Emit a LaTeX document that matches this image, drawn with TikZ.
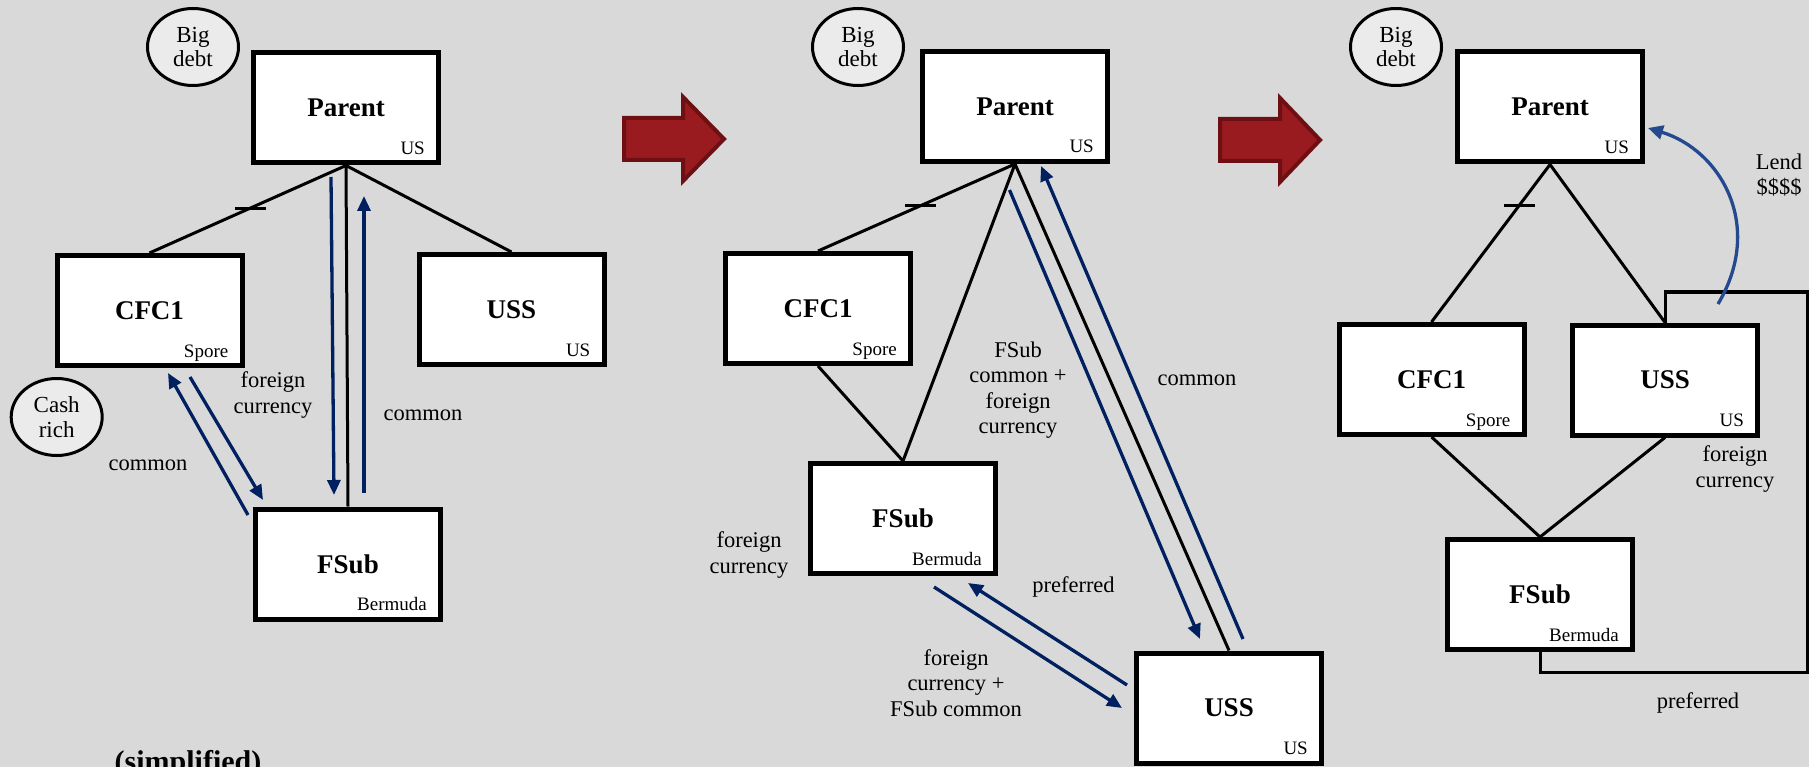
\documentclass[tikz,border=0pt]{standalone}
\usepackage{fontspec}
\setmainfont{Liberation Serif}
\usetikzlibrary{arrows.meta,calc,shapes.geometric}
\definecolor{bg}{HTML}{D9D9D9}
\definecolor{navy}{HTML}{002060}
\definecolor{lendblue}{HTML}{24498F}
\definecolor{bubblefill}{HTML}{EBEBEB}
\definecolor{arrowred}{HTML}{9A1B1F}
\definecolor{arrowdark}{HTML}{6E1013}
\pgfdeclarelayer{back}
\pgfsetlayers{back,main}
\begin{document}
\begin{tikzpicture}[x=1pt,y=-1pt,
  box/.style={draw=black,line width=5pt,fill=white,minimum width=185pt,minimum height=110pt,inner sep=0pt,font=\fontsize{27}{30}\selectfont\bfseries},
  ctry/.style={inner sep=0pt,font=\fontsize{19}{20}\selectfont},
  lbl/.style={inner sep=0pt,align=center,font=\fontsize{22.5}{25.5}\selectfont},
  bubble/.style={ellipse,draw=black,line width=3pt,fill=bubblefill,minimum width=91pt,minimum height=77pt,inner sep=0pt,align=center,font=\fontsize{23}{24.5}\selectfont},
  conn/.style={draw=black,line width=3pt},
  tickmark/.style={draw=black,line width=3pt},
  flow/.style={draw=navy,line width=3.3pt,-{Triangle[length=15pt,width=13pt]}},
  lendflow/.style={draw=lendblue,line width=3.3pt,-{Triangle[length=15pt,width=14pt]}},
  bigarrow/.style={fill=arrowred,draw=arrowdark,line width=4pt,line join=miter}
]
\useasboundingbox (0,0) rectangle (1809,767);
\begin{pgfonlayer}{back}
\fill[bg] (0,0) rectangle (1809,767);
\end{pgfonlayer}
\begin{scope}
\clip (0,0) rectangle (1809,767);

% ---------------- Panel 1 ----------------
\node[box] (P1) at (346,108) {Parent};
\node[box] (C1) at (149.5,310.5) {CFC1};
\node[box] (U1) at (511.5,309.5) {USS};
\node[box] (F1) at (348,564) {FSub};
\begin{pgfonlayer}{back}
\draw[conn] (P1.south) -- (C1.north) coordinate[pos=0.49] (t1);
\draw[conn] (P1.south) -- (U1.north);
\draw[conn] (P1.south) -- (F1.north);
\draw[tickmark] ($(t1)+(-15,0)$) -- ($(t1)+(16,0)$);
\end{pgfonlayer}
\node[ctry,anchor=base east] (P1c) at ($(P1.south east)+(-16,-11)$) {US};
\node[ctry,anchor=base east] (C1c) at ($(C1.south east)+(-16,-11)$) {Spore};
\node[ctry,anchor=base east] (U1c) at ($(U1.south east)+(-16,-11)$) {US};
\node[ctry,anchor=base east] (F1c) at ($(F1.south east)+(-16,-11)$) {Bermuda};
\node[bubble] (B1) at (193,47) {Big\\debt};
\node[bubble] (R1) at (56.7,417) {Cash\\rich};
\coordinate (a1s) at (331,177); \coordinate (a1e) at (334,495);
\coordinate (a2s) at (364,493); \coordinate (a2e) at (364,196);
\coordinate (a3s) at (248,515); \coordinate (a3e) at (168,373);
\coordinate (a4s) at (190,377); \coordinate (a4e) at (263,500);
\draw[flow] (a1s) -- (a1e);
\draw[flow] (a2s) -- (a2e);
\draw[flow] (a3s) -- (a3e);
\draw[flow] (a4s) -- (a4e);
\node[lbl] (L1) at (273,395) {foreign\\currency};
\node[lbl] (L2) at (423,415) {common};
\node[lbl] (L3) at (148,465) {common};
\node[inner sep=0pt,anchor=base,font=\fontsize{30}{32}\selectfont\bfseries] (S1) at (188,771) {(simplified)};

% ---------------- Arrows between panels ----------------
\draw[bigarrow] (624,118) -- (683,118) -- (683,97) -- (724,139) -- (683,181) -- (683,160) -- (624,160) -- cycle;
\draw[bigarrow] (1220,119) -- (1280,119) -- (1280,98) -- (1320,140) -- (1280,182) -- (1280,161) -- (1220,161) -- cycle;

% ---------------- Panel 2 ----------------
\node[box] (P2) at (1015,106.5) {Parent};
\node[box] (C2) at (818,308.5) {CFC1};
\node[box] (F2) at (903,518.5) {FSub};
\node[box] (U2) at (1229,708) {USS};
\begin{pgfonlayer}{back}
\draw[conn] (P2.south) -- (C2.north) coordinate[pos=0.48] (t2);
\draw[conn] (P2.south) -- (F2.north);
\draw[conn] (C2.south) -- (F2.north);
\draw[conn] (P2.south) -- (U2.north);
\draw[tickmark] ($(t2)+(-15,0)$) -- ($(t2)+(16,0)$);
\end{pgfonlayer}
\node[ctry,anchor=base east] (P2c) at ($(P2.south east)+(-16,-11)$) {US};
\node[ctry,anchor=base east] (C2c) at ($(C2.south east)+(-16,-11)$) {Spore};
\node[ctry,anchor=base east] (F2c) at ($(F2.south east)+(-16,-11)$) {Bermuda};
\node[ctry,anchor=base east] (U2c) at ($(U2.south east)+(-16,-11)$) {US};
\node[bubble] (B2) at (858,47) {Big\\debt};
\coordinate (b1s) at (1009.5,190); \coordinate (b1e) at (1200,639);
\coordinate (b2s) at (1243,639); \coordinate (b2e) at (1041,166);
\coordinate (b3s) at (934,587); \coordinate (b3e) at (1122,708);
\coordinate (b4s) at (1127,685); \coordinate (b4e) at (968,583);
\draw[flow] (b1s) -- (b1e);
\draw[flow] (b2s) -- (b2e);
\draw[flow] (b3s) -- (b3e);
\draw[flow] (b4s) -- (b4e);
\node[lbl] (M1) at (1018,390) {FSub\\common +\\foreign\\currency};
\node[lbl] (M2) at (1197,380) {common};
\node[lbl] (M3) at (1073.5,587) {preferred};
\node[lbl] (M4) at (956,683) {foreign\\currency +\\FSub common};
\node[lbl] (M5) at (749,555) {foreign\\currency};

% ---------------- Panel 3 ----------------
\node[box] (P3) at (1550,107) {Parent};
\node[box] (C3) at (1431.5,379.5) {CFC1};
\node[box] (U3) at (1665,380) {USS};
\node[box] (F3) at (1540,594.5) {FSub};
\coordinate (q1) at (1807,292);
\coordinate (q2) at (1807,672);
\begin{pgfonlayer}{back}
\draw[conn] (U3.north) |- (q1) -- (q2) -| (F3.south);
\draw[conn] (P3.south) -- (C3.north) coordinate[pos=0.26] (t3);
\draw[conn] (P3.south) -- (U3.north);
\draw[conn] (C3.south) -- (F3.north);
\draw[conn] (U3.south) -- (F3.north);
\draw[tickmark] ($(t3)+(-15,0)$) -- ($(t3)+(16,0)$);
\end{pgfonlayer}
\node[ctry,anchor=base east] (P3c) at ($(P3.south east)+(-16,-11)$) {US};
\node[ctry,anchor=base east] (C3c) at ($(C3.south east)+(-16,-11)$) {Spore};
\node[ctry,anchor=base east] (U3c) at ($(U3.south east)+(-16,-11)$) {US};
\node[ctry,anchor=base east] (F3c) at ($(F3.south east)+(-16,-11)$) {Bermuda};
\node[bubble] (B3) at (1396,47) {Big\\debt};
\coordinate (ls) at (1718,304);
\coordinate (le) at (1648,128);
\draw[lendflow] (ls) .. controls (1765,225) and (1720,150) .. (le);
\node[lbl] (N1) at (1735,469) {foreign\\currency};
\node[lbl] (N2) at (1698,703) {preferred};
\node[lbl] (N3) at (1779,175) {Lend\\\$\$\$\$};
\end{scope}
\end{tikzpicture}
\end{document}
